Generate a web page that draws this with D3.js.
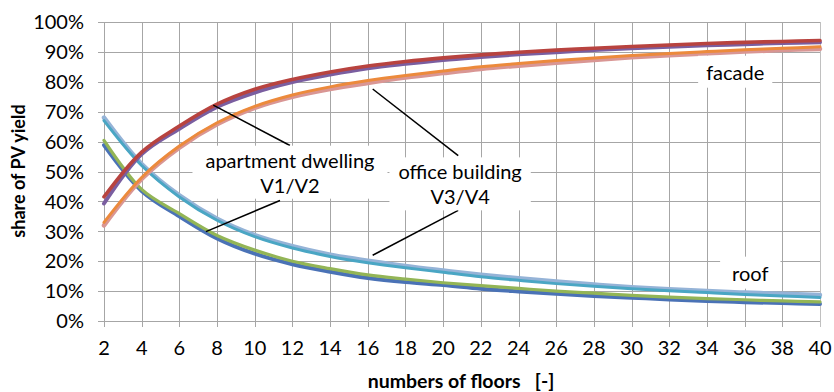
<!DOCTYPE html>
<html>
<head>
<meta charset="utf-8">
<script src="https://cdn.jsdelivr.net/npm/d3@7"></script>
<style>
  html, body { margin: 0; padding: 0; background: #fff; }
  svg { display: block; }
  text { font-family: Lato, "Open Sans", sans-serif; fill: #000; }
</style>
</head>
<body>
<svg id="chart" width="834" height="392"></svg>
<script>
// ---- data (shares in %) ----
const floors = [2,4,6,8,10,12,14,16,18,20,22,24,26,28,30,32,34,36,38,40];
const facadeV1 = [41.5,56.5,65.2,72.5,77.5,80.8,83.3,85.3,86.8,88,89,89.9,90.6,91.2,91.8,92.3,92.8,93.2,93.5,93.8];
const facadeV2 = [39.3,55.8,64.3,71.6,76.4,79.9,82.4,84.5,86,87.3,88.3,89.2,89.9,90.6,91.2,91.7,92.2,92.6,93.0,93.2];
const facadeV3 = [33,48,58.5,66.3,71.8,75.6,78.3,80.4,82.1,83.6,85,86.1,87.1,88,88.8,89.5,90.1,90.7,91.2,91.7];
const facadeV4 = [32,47.5,58,65.8,71.3,75,77.6,79.6,81.4,82.9,84.3,85.4,86.4,87.3,88.2,88.9,89.5,90.1,90.6,91];
const roofV1 = [58.8,43.5,35,27.6,22.5,19,16.5,14.4,13,12,10.8,9.9,9.1,8.4,7.8,7.2,6.7,6.3,6.0,5.7];
const roofV2 = [60.4,44,35.9,28.6,23.7,20,17.5,15.4,14,12.8,11.8,10.9,10.0,9.3,8.6,8.0,7.5,7.1,6.7,6.4];
const roofV3 = [67,52,41.5,33.7,28.2,24.4,21.6,19.5,17.8,16.3,14.8,13.6,12.5,11.6,10.8,10.1,9.5,8.9,8.4,7.9];
const roofV4 = [68,52.5,42,34.2,28.7,25,22.2,20.2,18.4,16.9,15.5,14.3,13.2,12.2,11.3,10.6,10,9.5,9.1,8.7];
const yTicks = [0,10,20,30,40,50,60,70,80,90,100];
const xTicks = floors;

// series in drawing order
const series = [
  { name: "roof V4",   values: roofV4,   color: "#95b3d7", width: 4.5 },
  { name: "roof V3",   values: roofV3,   color: "#4aa6c4", width: 3 },
  { name: "roof V1",   values: roofV1,   color: "#4a72b6", width: 4 },
  { name: "roof V2",   values: roofV2,   color: "#93b556", width: 3.2 },
  { name: "facade V4", values: facadeV4, color: "#d99694", width: 4.5 },
  { name: "facade V3", values: facadeV3, color: "#ec8a3c", width: 3 },
  { name: "facade V2", values: facadeV2, color: "#7a5ea0", width: 4 },
  { name: "facade V1", values: facadeV1, color: "#b8433f", width: 3.6 }
];

// annotation labels (data coordinates: floors, %)
const labels = [
  { lines: ["apartment dwelling", "V1/V2"], x: 11.87, y: 49.5, padX: 13, padY: 2 },
  { lines: ["office building", "V3/V4"], x: 20.9, y: 45.6, padX: 9, padY: 2 },
  { lines: ["facade"], x: 35.5, y: 83.1, padX: 8, padY: 4 },
  { lines: ["roof"], x: 36.3, y: 15.9, padX: 12, padY: 4 }
];
const leaders = [
  { from: [7.8, 72.2],  to: [11.87, 58.7] },
  { from: [7.41, 29.9], to: [11.34, 40.3] },
  { from: [16.26, 77.6], to: [20.8, 55.3] },
  { from: [16.26, 22.0], to: [20.8, 37.0] }
];

// ---- layout ----
const svg = d3.select("#chart");
const L = 104, R = 820, T = 22, B = 321;
const x = d3.scaleLinear().domain([2, 40]).range([L, R]);
const y = d3.scaleLinear().domain([0, 100]).range([B, T]);
const gridColor = "#a6a6a6";
const fs = 20;

// gridlines
svg.append("g").selectAll("line.h").data(yTicks).join("line")
  .attr("x1", L - 6).attr("x2", R)
  .attr("y1", d => Math.round(y(d)) + 0.5).attr("y2", d => Math.round(y(d)) + 0.5)
  .attr("stroke", gridColor).attr("stroke-width", 1);
svg.append("g").selectAll("line.v").data(xTicks).join("line")
  .attr("x1", d => Math.round(x(d)) + 0.5).attr("x2", d => Math.round(x(d)) + 0.5)
  .attr("y1", T).attr("y2", B + 6)
  .attr("stroke", d => d === 40 ? "#c0c0c0" : gridColor).attr("stroke-width", 1);

// tick labels
svg.append("g").selectAll("text").data(yTicks).join("text")
  .attr("x", 84).attr("y", d => y(d)).attr("dy", "0.36em")
  .attr("text-anchor", "end").attr("font-size", fs)
  .text(d => d + "%");
svg.append("g").selectAll("text").data(xTicks).join("text")
  .attr("x", d => x(d)).attr("y", 355)
  .attr("text-anchor", "middle").attr("font-size", fs)
  .text(d => d);

// axis titles
svg.append("text").attr("x", 461).attr("y", 388)
  .attr("text-anchor", "middle").attr("font-size", 19.5).attr("font-weight", "bold")
  .attr("xml:space", "preserve")
  .text("numbers of floors   [-]");
svg.append("text").attr("transform", "translate(25,171) rotate(-90)")
  .attr("text-anchor", "middle").attr("font-size", 18).attr("font-weight", "bold")
  .text("share of PV yield");

// lines
const line = d3.line()
  .x((d, i) => x(floors[i]))
  .y(d => y(d))
  .curve(d3.curveCatmullRom.alpha(0.5));
svg.append("g").selectAll("path").data(series).join("path")
  .attr("d", d => line(d.values))
  .attr("fill", "none")
  .attr("stroke", d => d.color)
  .attr("stroke-width", d => d.width)
  .attr("stroke-linejoin", "round")
  .attr("stroke-linecap", "round");

// leader lines
svg.append("g").selectAll("line").data(leaders).join("line")
  .attr("x1", d => x(d.from[0])).attr("y1", d => y(d.from[1]))
  .attr("x2", d => x(d.to[0])).attr("y2", d => y(d.to[1]))
  .attr("stroke", "#000").attr("stroke-width", 1.5);

// label boxes
const lineH = 25;
labels.forEach(lb => {
  const g = svg.append("g");
  const cx = x(lb.x), cy = y(lb.y);
  const n = lb.lines.length;
  const rect = g.append("rect").attr("fill", "#fff");
  const t = g.append("text").attr("text-anchor", "middle").attr("font-size", fs);
  lb.lines.forEach((s, i) => {
    t.append("tspan").attr("x", cx)
      .attr("y", cy + (i - (n - 1) / 2) * lineH)
      .attr("dy", "0.36em").text(s);
  });
  const bb = t.node().getBBox();
  rect.attr("x", bb.x - lb.padX).attr("y", bb.y - lb.padY)
    .attr("width", bb.width + 2 * lb.padX).attr("height", bb.height + 2 * lb.padY);
});
</script>
</body>
</html>
